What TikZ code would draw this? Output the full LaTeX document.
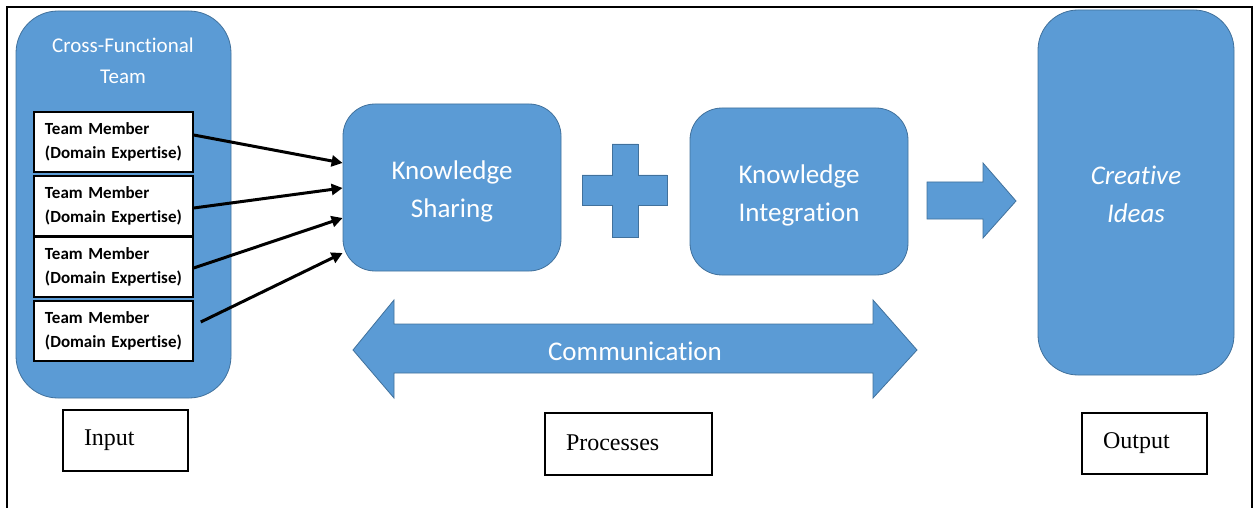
\documentclass[tikz,border=0pt]{standalone}
\usepackage{fontspec}
\setmainfont{Carlito}[Ligatures=NoCommon]
\newfontfamily\labelfont{Liberation Serif}
\usetikzlibrary{arrows.meta}
\definecolor{boxblue}{HTML}{5B9BD5}
\definecolor{boxedge}{HTML}{41719C}
\begin{document}
\begin{tikzpicture}[x=1pt,y=-1pt,
  bluebox/.style={draw=boxedge, line width=0.8pt, fill=boxblue, rounded corners=32pt, inner sep=0pt},
  boxtext/.style={text=white, align=center, inner sep=0pt, font=\fontsize{27}{38}\selectfont},
  bluearrow/.style={draw=boxedge, line width=0.8pt, fill=boxblue},
  memberbox/.style={draw=black, line width=1.5pt, fill=white, minimum width=159pt,
    minimum height=60pt, text width=137pt, inner xsep=11pt, inner ysep=0pt, align=left,
    font=\bfseries\fontsize{17}{24}\selectfont},
  labelbox/.style={draw=black, line width=2pt, fill=white, inner xsep=21pt, inner ysep=0pt,
    align=left, font=\labelfont\fontsize{24}{28}\selectfont},
  feed/.style={line width=3pt, -{Triangle[length=11pt,width=11pt]}}]
\useasboundingbox (0,0) rectangle (1259,508);
% outer frame, open at the foot
\draw[line width=2pt] (7,508) -- (7,7) -- (1252,7) -- (1252,508);

% input: the team and its members
\node[bluebox, minimum width=215pt, minimum height=387pt, rounded corners=42pt] (team) at (123.5,204.5) {};
\node[text=white, align=center, font=\fontsize{21}{31}\selectfont] (teamtitle) at (123,61) {Cross-Functional\\Team};
\node[memberbox] (m1) at (113.5,142) {Team Member\\(Domain Expertise)};
\node[memberbox] (m2) at (113.5,206) {Team Member\\(Domain Expertise)};
\node[memberbox] (m3) at (113.5,267) {Team Member\\(Domain Expertise)};
\node[memberbox] (m4) at (113.5,331) {Team Member\\(Domain Expertise)};

% processes
\node[bluebox, minimum width=218pt, minimum height=167pt] (ks) at (452,187.5) {};
\node[boxtext] (kstext) at ([yshift=-4pt]ks.center) {Knowledge\\Sharing};
\node[bluebox, minimum width=218pt, minimum height=167pt] (ki) at (799,191.5) {};
\node[boxtext] (kitext) at ([yshift=-4pt]ki.center) {Knowledge\\Integration};
\draw[bluearrow] (612,144) -- (638,144) -- (638,175) -- (667,175) -- (667,205) -- (638,205)
  -- (638,237) -- (612,237) -- (612,205) -- (582,205) -- (582,175) -- (612,175) -- cycle;
\draw[bluearrow] (353,350) -- (394,300) -- (394,324) -- (873,324) -- (873,300) -- (917,350)
  -- (873,398) -- (873,373) -- (394,373) -- (394,398) -- cycle;
\node[boxtext] (comm) at (635,351) {Communication};

% output
\draw[bluearrow] (927,182) -- (983,182) -- (983,163) -- (1016,201) -- (983,238) -- (983,219)
  -- (927,219) -- cycle;
\node[bluebox, minimum width=196pt, minimum height=365pt, rounded corners=40pt] (ideas) at (1136,192.5) {};
\node[boxtext, font=\itshape\fontsize{27}{38}\selectfont] (ideastext) at ([yshift=-2pt]ideas.center) {Creative\\Ideas};

% members feeding knowledge sharing
\draw[feed] ([yshift=7pt]m1.east) -- ([yshift=24.5pt]ks.west);
\draw[feed] ([yshift=-2pt]m2.east) -- ([yshift=-0.5pt]ks.west);
\draw[feed] ([yshift=-1pt]m3.east) -- ([yshift=-30.5pt]ks.west);
\draw[feed] ([xshift=7pt,yshift=9pt]m4.east) -- ([yshift=-65.5pt]ks.west);

% stage labels
\node[labelbox, minimum width=125pt, minimum height=61pt, text width=83pt] (lin) at (125.5,440.5) {\raisebox{3pt}{Input}};
\node[labelbox, minimum width=167pt, minimum height=62pt, text width=125pt] (lproc) at (628.5,444) {\raisebox{3pt}{Processes}};
\node[labelbox, minimum width=125pt, minimum height=61pt, text width=83pt] (lout) at (1144.5,443.5) {\raisebox{3pt}{Output}};
\end{tikzpicture}
\end{document}
